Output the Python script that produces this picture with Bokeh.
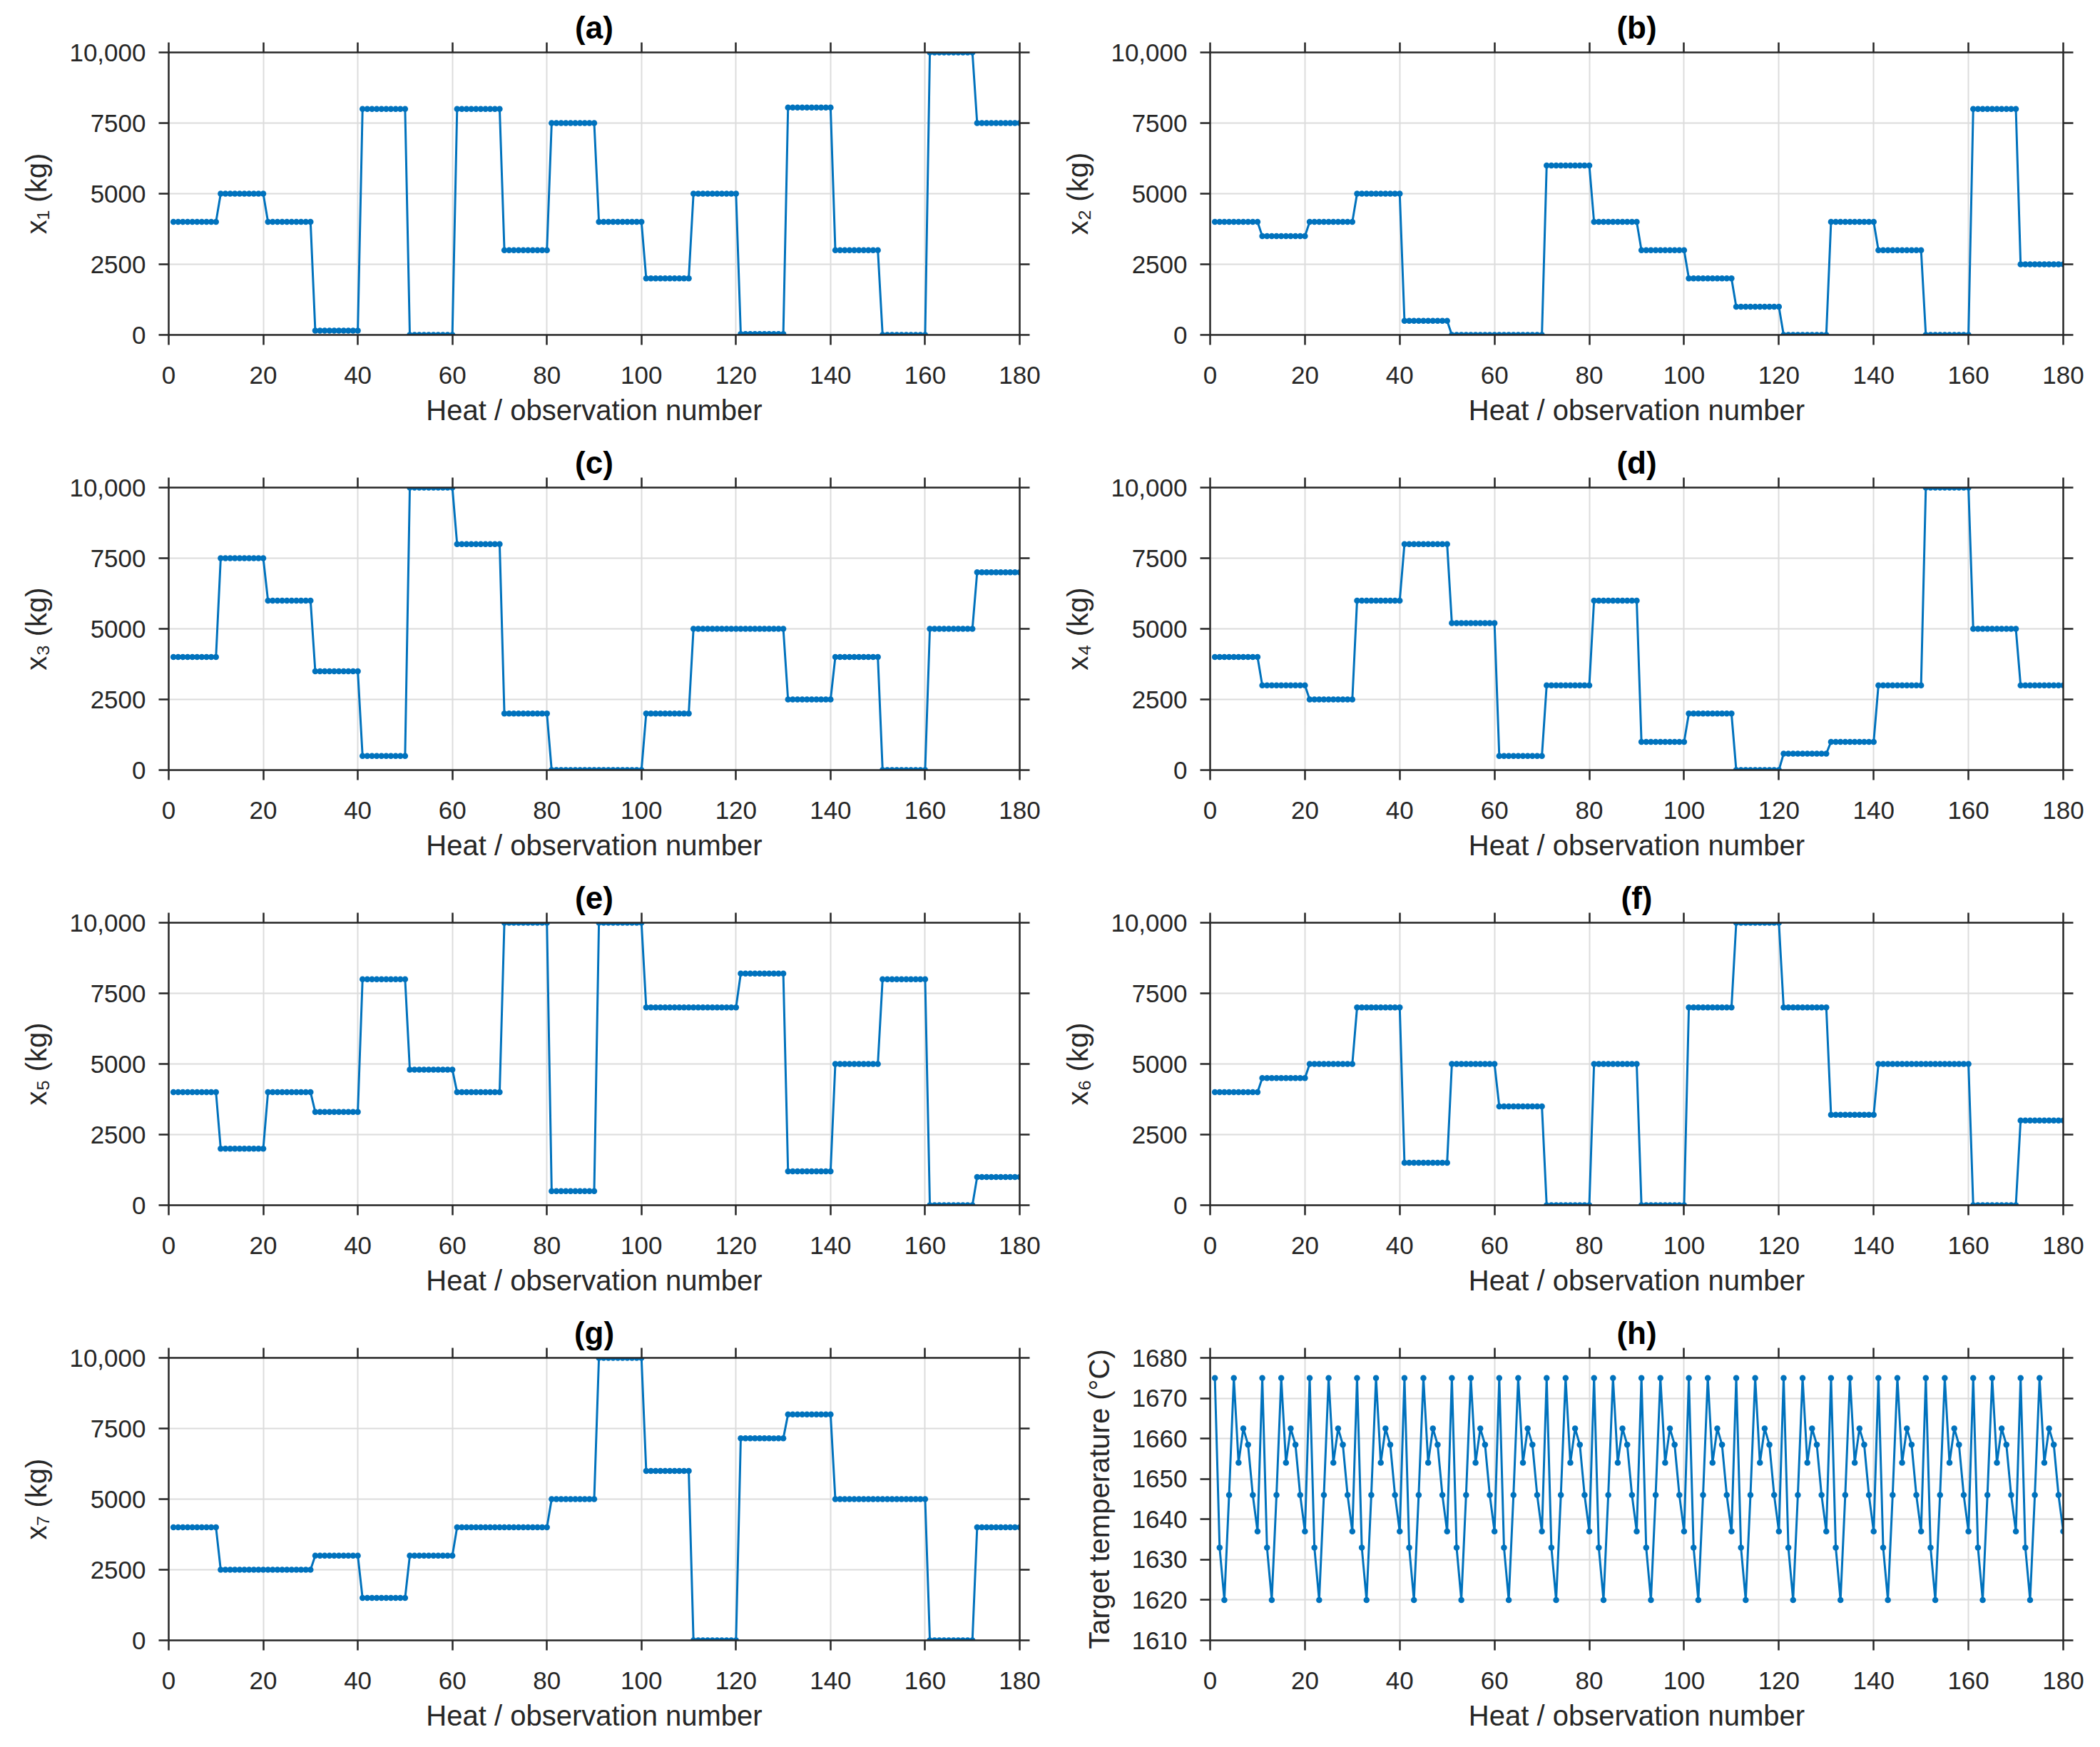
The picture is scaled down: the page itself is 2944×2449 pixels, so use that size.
import numpy as np
from bokeh.plotting import figure
from bokeh.layouts import gridplot
from bokeh.models import LinearAxis, FixedTicker, Range1d, Title
from bokeh.embed import file_html
from bokeh.resources import INLINE

# ---------------- data ----------------
obs = list(range(1, 181))          # heat / observation number
x_ticks = [0, 20, 40, 60, 80, 100, 120, 140, 160, 180]
kg_ticks = [0, 2500, 5000, 7500, 10000]
temp_ticks = [1610, 1620, 1630, 1640, 1650, 1660, 1670, 1680]

# each level holds for 10 consecutive heats (18 blocks)
x1_levels = [4000, 5000, 4000, 150, 8000, 0, 8000, 3000, 7500, 4000, 2000, 5000, 30, 8050, 3000, 0, 10000, 7500]
x2_levels = [4000, 3500, 4000, 5000, 500, 0, 0, 6000, 4000, 3000, 2000, 1000, 0, 4000, 3000, 0, 8000, 2500]
x3_levels = [4000, 7500, 6000, 3500, 500, 10000, 8000, 2000, 0, 0, 2000, 5000, 5000, 2500, 4000, 0, 5000, 7000]
x4_levels = [4000, 3000, 2500, 6000, 8000, 5200, 500, 3000, 6000, 1000, 2000, 0, 580, 1000, 3000, 10000, 5000, 3000]
x5_levels = [4000, 2000, 4000, 3300, 8000, 4800, 4000, 10000, 500, 10000, 7000, 7000, 8200, 1200, 5000, 8000, 0, 1000]
x6_levels = [4000, 4500, 5000, 7000, 1500, 5000, 3500, 0, 5000, 0, 7000, 10000, 7000, 3200, 5000, 5000, 0, 3000]
x7_levels = [4000, 2500, 2500, 3000, 1500, 3000, 4000, 4000, 5000, 10000, 6000, 0, 7150, 8000, 5000, 5000, 0, 4000]
# target temperature repeats the same 10-heat cycle
temp_cycle = [1675, 1633, 1620, 1646, 1675, 1654, 1662.5, 1658.5, 1646, 1637]

x1 = list(np.repeat(x1_levels, 10))
x2 = list(np.repeat(x2_levels, 10))
x3 = list(np.repeat(x3_levels, 10))
x4 = list(np.repeat(x4_levels, 10))
x5 = list(np.repeat(x5_levels, 10))
x6 = list(np.repeat(x6_levels, 10))
x7 = list(np.repeat(x7_levels, 10))
temp = list(np.tile(temp_cycle, 18))

# ---------------- style ----------------
FONT = "Liberation Sans"
DARK = "#262626"
BLUE = "#0072BD"
GRID = "#dcdcdc"


def style_axis(ax, show_labels=True):
    ax.axis_line_color = DARK
    ax.axis_line_width = 2.5
    ax.major_tick_line_color = DARK
    ax.major_tick_line_width = 2.5
    ax.major_tick_out = 14
    ax.major_tick_in = 0
    ax.minor_tick_line_color = None
    ax.major_label_text_font = FONT
    if show_labels:
        ax.major_label_text_color = DARK
        ax.major_label_text_font_size = "35px"
    else:
        ax.major_label_text_color = None
        ax.major_label_text_font_size = "1px"
        ax.major_label_standoff = 0
    ax.axis_label_text_font = FONT
    ax.axis_label_text_font_size = "40px"
    ax.axis_label_text_font_style = "normal"
    ax.axis_label_text_color = DARK


def panel(letter, ylabel, yvals, yr, yticks, overrides, frame_w, left, bottom):
    right, top = 39, 73
    frame_h = 396
    p = figure(width=left + frame_w + right, height=top + frame_h + bottom,
               x_range=Range1d(0, 180), y_range=Range1d(*yr),
               output_backend="svg", toolbar_location=None,
               min_border_left=left, min_border_right=right,
               min_border_top=top, min_border_bottom=bottom)
    p.title = Title(text="(" + letter + ")", align="center",
                    text_font=FONT, text_font_size="44px",
                    text_font_style="bold", text_color="black", standoff=-6)
    p.outline_line_color = None
    p.background_fill_color = "white"
    p.border_fill_color = "white"

    xt = FixedTicker(ticks=x_ticks)
    yt = FixedTicker(ticks=yticks)
    p.xaxis.ticker = xt
    p.yaxis.ticker = yt
    p.xgrid.ticker = xt
    p.ygrid.ticker = yt
    p.grid.grid_line_color = GRID
    p.grid.grid_line_width = 2

    style_axis(p.xaxis[0])
    style_axis(p.yaxis[0])
    p.xaxis.major_label_standoff = 30
    p.yaxis.major_label_standoff = 18
    p.xaxis.axis_label = "Heat / observation number"
    p.yaxis.axis_label = ylabel
    p.xaxis.axis_label_standoff = 12
    p.yaxis.axis_label_standoff = 21
    if overrides:
        p.yaxis.major_label_overrides = overrides

    rax = LinearAxis(ticker=FixedTicker(ticks=yticks))
    style_axis(rax, show_labels=False)
    p.add_layout(rax, "right")
    tax = LinearAxis(ticker=FixedTicker(ticks=x_ticks))
    style_axis(tax, show_labels=False)
    p.add_layout(tax, "above")

    p.line(obs, yvals, line_color=BLUE, line_width=3)
    p.scatter(obs, yvals, size=8.5, fill_color=BLUE, line_color=None)
    return p


kg_over = {10000: "10,000"}
W1, W2 = 1193, 1196
L1, L2 = 236, 228
B = 141
pa = panel("a", "x\u2081 (kg)", x1, (0, 10000), kg_ticks, kg_over, W1, L1, B)
pb = panel("b", "x\u2082 (kg)", x2, (0, 10000), kg_ticks, kg_over, W2, L2, B)
pc = panel("c", "x\u2083 (kg)", x3, (0, 10000), kg_ticks, kg_over, W1, L1, B)
pd_ = panel("d", "x\u2084 (kg)", x4, (0, 10000), kg_ticks, kg_over, W2, L2, B)
pe = panel("e", "x\u2085 (kg)", x5, (0, 10000), kg_ticks, kg_over, W1, L1, B)
pf = panel("f", "x\u2086 (kg)", x6, (0, 10000), kg_ticks, kg_over, W2, L2, B)
pg = panel("g", "x\u2087 (kg)", x7, (0, 10000), kg_ticks, kg_over, W1, L1, B)
ph = panel("h", "Target temperature (\u00b0C)", temp, (1610, 1680), temp_ticks, None, W2, L2, B)

grid = gridplot([[pa, pb], [pc, pd_], [pe, pf], [pg, ph]], toolbar_location=None)

open("out.html", "w").write(file_html(grid, INLINE))
